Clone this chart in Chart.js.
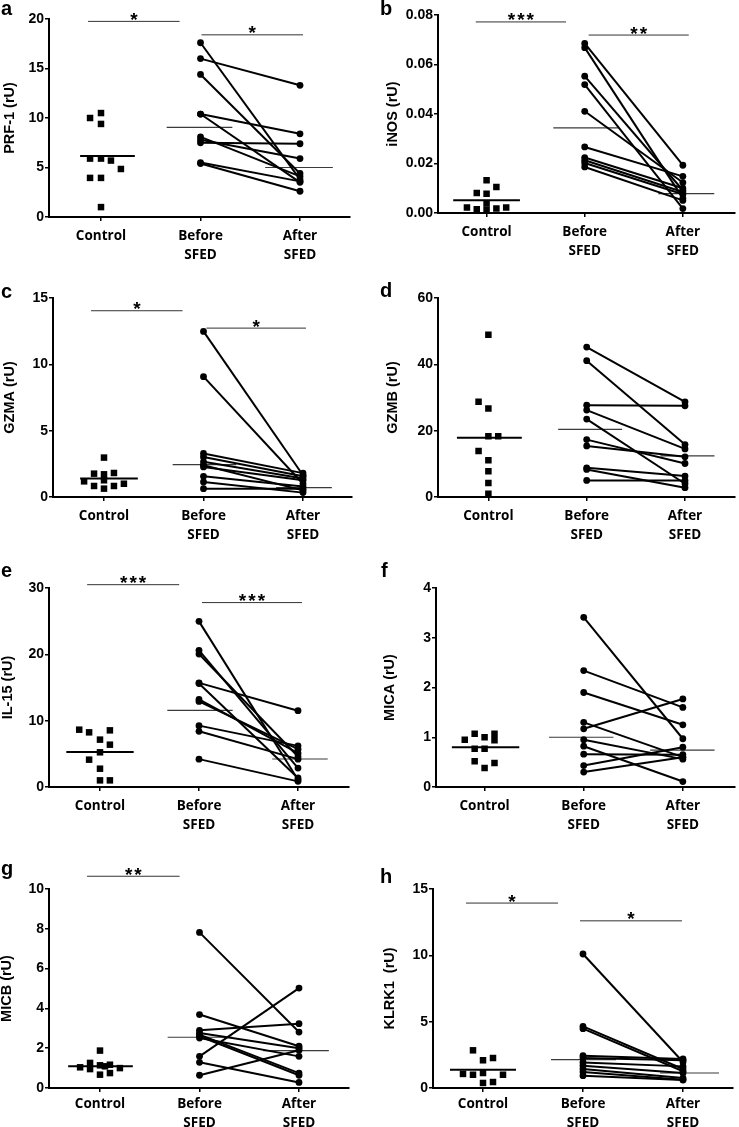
<!DOCTYPE html>
<html>
<head>
<meta charset="utf-8">
<script src="https://cdn.jsdelivr.net/npm/chart.js@4"></script>
<style>
  body { margin: 0; background: #fff; width: 739px; height: 1127px; position: relative; overflow: hidden; }
  canvas { position: absolute; }
</style>
</head>
<body>
<script>
const CATEGORIES = ['Control', ['Before', 'SFED'], ['After', 'SFED']];

// a - PRF-1
const prfControl = [10.0, 10.5, 9.4, 5.9, 5.9, 5.7, 4.85, 3.95, 3.95, 1.0];
const prfJitter  = [-0.11, 0, 0, -0.11, 0, 0.1, 0.2, -0.11, 0, 0];
const prfBefore  = [17.6, 16.0, 14.4, 10.4, 10.4, 8.1, 7.8, 7.5, 5.5, 5.4];
const prfAfter   = [3.8, 13.3, 4.4, 8.4, 3.5, 4.1, 5.9, 7.4, 3.6, 2.6];
const prfMeans   = [6.15, 9.05, 5.0];
const prfTicks   = [0, 5, 10, 15, 20];
const prfSig     = [[-0.13, 0.79, 19.76, '*'], [1.01, 2.03, 18.4, '*']];

// b - iNOS
const inosControl = [0.0132, 0.0105, 0.0081, 0.0078, 0.0022, 0.0015, 0.0038, 0.0013, 0.0018, 0.0022];
const inosJitter  = [0, 0.1, -0.1, 0, -0.2, -0.1, 0, 0, 0.1, 0.2];
const inosBefore  = [0.0685, 0.0668, 0.0553, 0.0519, 0.0411, 0.0267, 0.0224, 0.0213, 0.0202, 0.0186];
const inosAfter   = [0.0193, 0.0060, 0.0092, 0.0018, 0.0123, 0.0148, 0.0100, 0.0085, 0.0076, 0.0051];
const inosMeans   = [0.0052, 0.0344, 0.0078];
const inosTicks   = [0, 0.02, 0.04, 0.06, 0.08];
const inosSig     = [[-0.11, 0.81, 0.0772, '***'], [1.04, 2.06, 0.0719, '**']];

// c - GZMA
const gzmaControl = [2.97, 1.76, 1.71, 1.81, 1.18, 0.83, 0.63, 1.26, 0.83, 1.0];
const gzmaJitter  = [0, -0.1, 0, 0.1, -0.2, -0.1, 0, 0, 0.1, 0.2];
const gzmaBefore  = [12.48, 9.07, 3.28, 3.02, 2.65, 2.4, 2.27, 1.56, 1.13, 0.63];
const gzmaAfter   = [1.64, 1.0, 1.8, 1.56, 1.39, 0.5, 1.26, 0.8, 0.33, 0.63];
const gzmaMeans   = [1.39, 2.44, 0.71];
const gzmaTicks   = [0, 5, 10, 15];
const gzmaSig     = [[-0.13, 0.79, 14.04, '*'], [1.03, 2.03, 12.73, '*']];

// d - GZMB
const gzmbControl = [48.9, 28.7, 26.7, 18.35, 18.35, 13.9, 11.1, 7.8, 4.2, 1.0];
const gzmbJitter  = [0, -0.1, 0, 0, 0.1, -0.1, 0, 0, 0, 0];
const gzmbBefore  = [45.2, 41.1, 27.7, 26.2, 23.5, 17.3, 15.4, 8.8, 8.3, 5.0];
const gzmbAfter   = [28.7, 15.8, 27.5, 14.5, 4.0, 10.1, 12.1, 6.3, 2.8, 5.0];
const gzmbMeans   = [17.9, 20.4, 12.4];
const gzmbTicks   = [0, 20, 40, 60];
const gzmbSig     = [];

// e - IL-15
const il15Control = [8.64, 8.24, 8.54, 7.14, 6.38, 5.23, 4.12, 2.76, 1.0, 1.0];
const il15Jitter  = [-0.21, -0.11, 0.1, 0, 0.1, 0, -0.11, 0, 0, 0.1];
const il15Before  = [24.97, 20.6, 20.05, 15.7, 15.6, 13.2, 12.9, 9.25, 8.4, 4.2];
const il15After   = [1.1, 2.86, 4.6, 11.5, 1.36, 5.1, 5.7, 6.2, 4.2, 0.85];
const il15Means   = [5.28, 11.56, 4.22];
const il15Ticks   = [0, 10, 20, 30];
const il15Sig     = [[-0.13, 0.8, 30.5, '***'], [1.03, 2.04, 27.8, '***']];

// f - MICA
const micaControl = [0.95, 1.07, 1.0, 1.07, 0.94, 0.77, 0.77, 0.52, 0.48, 0.38];
const micaJitter  = [-0.2, -0.1, 0, 0.1, 0.1, -0.1, 0, -0.1, 0.1, 0];
const micaBefore  = [3.41, 2.34, 1.90, 1.30, 1.17, 0.95, 0.82, 0.66, 0.43, 0.30];
const micaAfter   = [0.97, 1.60, 1.25, 0.60, 1.77, 0.56, 0.11, 0.65, 0.80, 0.60];
const micaMeans   = [0.80, 1.0, 0.74];
const micaTicks   = [0, 1, 2, 3, 4];
const micaSig     = [];

// g - MICB
const micbControl = [1.88, 1.04, 1.26, 1.14, 0.95, 1.09, 1.0, 0.67, 0.75, 1.17];
const micbJitter  = [0, -0.2, -0.1, 0, -0.1, 0.05, 0.2, 0, 0.1, 0.1];
const micbBefore  = [7.82, 3.69, 2.9, 2.76, 2.68, 2.6, 2.51, 1.59, 1.29, 0.64];
const micbAfter   = [2.81, 2.1, 3.23, 2.0, 0.75, 0.64, 1.59, 5.02, 0.28, 1.9];
const micbMeans   = [1.09, 2.55, 1.88];
const micbTicks   = [0, 2, 4, 6, 8, 10];
const micbSig     = [[-0.13, 0.8, 10.64, '**']];

// h - KLRK1
const klrkControl = [2.84, 2.26, 2.09, 1.06, 1.0, 1.13, 1.0, 0.38, 0.45];
const klrkJitter  = [-0.1, 0.1, 0, -0.2, -0.1, 0, 0.2, 0, 0.1];
const klrkBefore  = [10.1, 4.65, 4.47, 2.44, 2.26, 1.93, 1.68, 1.43, 1.21, 0.93];
const klrkAfter   = [1.96, 1.43, 1.26, 2.19, 2.1, 1.63, 1.13, 0.75, 0.63, 0.6];
const klrkMeans   = [1.38, 2.14, 1.13];
const klrkTicks   = [0, 5, 10, 15];
const klrkSig     = [[-0.17, 0.75, 13.94, '*'], [0.97, 1.99, 12.6, '*']];

const TICK_FONT = '"Liberation Sans", Arial, sans-serif';
const CAT_FONT = '"Open Sans", Lato, sans-serif';

// draws the asterisks over significance bars and the panel letter
const annotate = {
  id: 'annotate',
  afterDatasetsDraw(chart, args, opts) {
    const { ctx, scales: { x, y } } = chart;
    ctx.save();
    ctx.fillStyle = '#000';
    ctx.textAlign = 'center';
    ctx.textBaseline = 'alphabetic';
    ctx.font = 'bold 19px ' + TICK_FONT;
    ctx.letterSpacing = '2px';
    opts.sig.forEach(([x1, x2, v, txt]) => {
      ctx.fillText(txt, x.getPixelForValue((x1 + x2) / 2) + 1, y.getPixelForValue(v) + 4.5);
    });
    ctx.letterSpacing = '0px';
    ctx.textAlign = 'left';
    ctx.font = 'bold 20px ' + TICK_FONT;
    ctx.fillText(opts.letter, opts.lx, opts.ly);
    ctx.restore();
  }
};

function panel(lay, d) {
  const [cx, cy, cw, ch] = lay.canvas;
  const [al, at, ar, ab] = lay.area;
  const cv = document.createElement('canvas');
  cv.width = cw; cv.height = ch;
  cv.style.left = cx + 'px'; cv.style.top = cy + 'px';
  document.body.appendChild(cv);

  const spans = lay.spans;
  const datasets = [];
  d.before.forEach((b, i) => datasets.push({
    data: [{ x: 1, y: b }, { x: 2, y: d.after[i] }],
    showLine: true, borderColor: '#000', borderWidth: 2,
    pointRadius: 3.4, pointBackgroundColor: '#000', pointBorderWidth: 0
  }));
  datasets.push({
    data: d.control.map((v, i) => ({ x: d.jitter[i], y: v })),
    pointStyle: 'rect', pointRadius: 4.6, pointBackgroundColor: '#000', pointBorderWidth: 0
  });
  d.means.forEach((m, g) => datasets.push({
    data: [{ x: g + spans[g][0], y: m }, { x: g + spans[g][1], y: m }],
    showLine: true, pointRadius: 0,
    borderColor: g === 0 ? '#000' : '#3a3a3a', borderWidth: g === 0 ? 2 : 1.2
  }));
  d.sig.forEach(s => datasets.push({
    data: [{ x: s[0], y: s[2] }, { x: s[1], y: s[2] }],
    showLine: true, pointRadius: 0, borderColor: '#333', borderWidth: 1, clip: false
  }));

  new Chart(cv, {
    type: 'scatter',
    data: { datasets },
    options: {
      responsive: false,
      animation: false,
      events: [],
      layout: { padding: { left: 0, top: at - cy, right: cx + cw - ar, bottom: 0 } },
      plugins: {
        legend: { display: false },
        tooltip: { enabled: false },
        annotate: { sig: d.sig, letter: lay.letter[0], lx: lay.letter[1] - cx, ly: lay.letter[2] - cy }
      },
      scales: {
        x: {
          type: 'linear',
          min: -(lay.ctrl - al) / lay.sp,
          max: (ar - lay.ctrl) / lay.sp,
          afterBuildTicks: s => { s.ticks = [0, 1, 2].map(v => ({ value: v })); },
          afterFit: s => { s.height = cy + ch - ab; },
          ticks: {
            color: '#000', padding: lay.labelPad, maxRotation: 0, autoSkip: false,
            font: { family: CAT_FONT, size: 13.5, weight: 'bold', lineHeight: 1.4 },
            callback: v => CATEGORIES[v]
          },
          grid: { drawOnChartArea: false, tickLength: 4, color: '#000', lineWidth: 1.5 },
          border: { color: '#000', width: 2 }
        },
        y: {
          min: 0,
          max: d.ticks[d.ticks.length - 1],
          afterBuildTicks: s => { s.ticks = d.ticks.map(v => ({ value: v })); },
          afterFit: s => { s.width = al - cx; },
          ticks: {
            color: '#000', padding: 1,
            font: { family: TICK_FONT, size: 14, weight: 'bold' },
            callback: v => d.decimals ? v.toFixed(d.decimals) : v
          },
          grid: { drawOnChartArea: false, tickLength: 4, color: '#000', lineWidth: 1.5 },
          border: { color: '#000', width: 2 },
          title: {
            display: true, text: d.title, color: '#000',
            font: { family: TICK_FONT, size: 14.5, weight: 'bold', lineHeight: 1.2 },
            padding: { top: lay.titleX - cx - 8.7, bottom: 0 }
          }
        }
      }
    },
    plugins: [annotate]
  });
}

panel({ canvas: [0, 0, 370, 275], area: [49, 19, 350, 217], ctrl: 101, sp: 99.5, letter: ['a', 1, 15], titleX: 10, labelPad: 6,
        spans: [[-0.21, 0.34], [-0.34, 0.32], [-0.35, 0.33]] },
      { title: 'PRF-1 (rU)', control: prfControl, jitter: prfJitter, before: prfBefore, after: prfAfter, means: prfMeans, ticks: prfTicks, sig: prfSig });
panel({ canvas: [370, 0, 369, 275], area: [438, 15, 737, 213], ctrl: 487, sp: 99, letter: ['b', 380, 15], titleX: 393, labelPad: 6,
        spans: [[-0.34, 0.34], [-0.32, 0.35], [-0.25, 0.32]] },
      { title: 'iNOS (rU)', control: inosControl, jitter: inosJitter, before: inosBefore, after: inosAfter, means: inosMeans, ticks: inosTicks, sig: inosSig, decimals: 2 });
panel({ canvas: [0, 280, 370, 275], area: [53, 298, 352, 497], ctrl: 104, sp: 99.5, letter: ['c', 1, 298], titleX: 10, labelPad: 6,
        spans: [[-0.24, 0.34], [-0.31, 0.33], [-0.27, 0.29]] },
      { title: 'GZMA (rU)', control: gzmaControl, jitter: gzmaJitter, before: gzmaBefore, after: gzmaAfter, means: gzmaMeans, ticks: gzmaTicks, sig: gzmaSig });
panel({ canvas: [370, 280, 369, 275], area: [438, 298, 738, 497], ctrl: 489, sp: 99.5, letter: ['d', 380, 297], titleX: 393, labelPad: 6,
        spans: [[-0.32, 0.34], [-0.29, 0.36], [-0.25, 0.3]] },
      { title: 'GZMB (rU)', control: gzmbControl, jitter: gzmbJitter, before: gzmbBefore, after: gzmbAfter, means: gzmbMeans, ticks: gzmbTicks, sig: gzmbSig });
panel({ canvas: [0, 560, 370, 280], area: [49, 588, 349, 787], ctrl: 100, sp: 99, letter: ['e', 1, 577], titleX: 8, labelPad: 6,
        spans: [[-0.34, 0.34], [-0.32, 0.34], [-0.26, 0.3]] },
      { title: 'IL-15 (rU)', control: il15Control, jitter: il15Jitter, before: il15Before, after: il15After, means: il15Means, ticks: il15Ticks, sig: il15Sig });
panel({ canvas: [370, 560, 369, 280], area: [436, 588, 737, 787], ctrl: 485, sp: 100, letter: ['f', 381, 577], titleX: 390, labelPad: 6,
        spans: [[-0.33, 0.35], [-0.35, 0.3], [-0.33, 0.32]] },
      { title: 'MICA (rU)', control: micaControl, jitter: micaJitter, before: micaBefore, after: micaAfter, means: micaMeans, ticks: micaTicks, sig: micaSig });
panel({ canvas: [0, 840, 370, 287], area: [49, 889, 349, 1088], ctrl: 100, sp: 99.5, letter: ['g', 1, 875], titleX: 7, labelPad: 3,
        spans: [[-0.32, 0.33], [-0.32, 0.33], [-0.36, 0.3]] },
      { title: 'MICB (rU)', control: micbControl, jitter: micbJitter, before: micbBefore, after: micbAfter, means: micbMeans, ticks: micbTicks, sig: micbSig });
panel({ canvas: [370, 840, 369, 287], area: [433, 889, 733, 1088], ctrl: 483, sp: 100, letter: ['h', 380, 883], titleX: 390, labelPad: 3,
        spans: [[-0.33, 0.33], [-0.32, 0.33], [-0.23, 0.36]] },
      { title: 'KLRK1  (rU)', control: klrkControl, jitter: klrkJitter, before: klrkBefore, after: klrkAfter, means: klrkMeans, ticks: klrkTicks, sig: klrkSig });
</script>
</body>
</html>
